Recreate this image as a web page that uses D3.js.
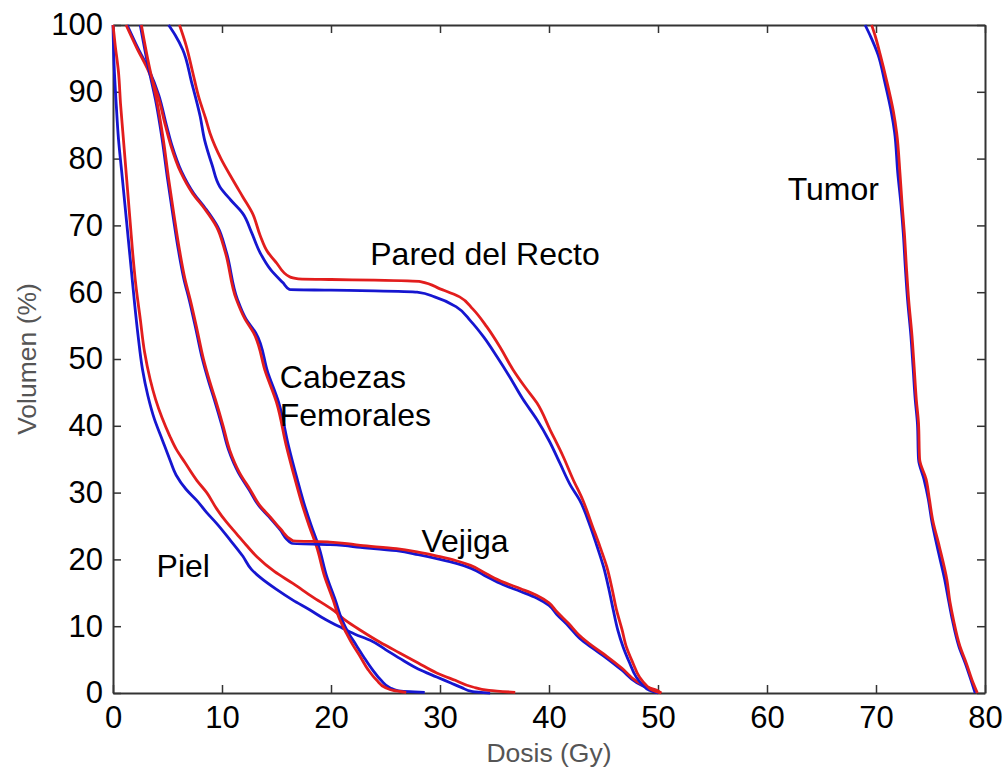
<!DOCTYPE html>
<html>
<head>
<meta charset="utf-8">
<script src="https://cdn.jsdelivr.net/npm/d3@7"></script>
<style>
  html, body { margin: 0; padding: 0; background: #fff; }
  svg { display: block; }
  text { font-family: "Liberation Sans", Arial, sans-serif; }
</style>
</head>
<body>
<div id="chart"></div>
<script>
// ---- Data (dose in Gy, volume in %) ----
const xTicks = [0, 10, 20, 30, 40, 50, 60, 70, 80];
const yTicks = [0, 10, 20, 30, 40, 50, 60, 70, 80, 90, 100];
const xLabel = "Dosis (Gy)";
const yLabel = "Volumen (%)";

const pielBlue = [[0,100],[0.1,94],[0.3,88],[0.5,83],[0.8,78],[1.1,73],[1.4,68],[1.7,63],[2.0,58],[2.3,53.5],[2.7,48.5],[3.2,44.5],[3.8,41],[4.5,38],[5.2,35],[5.8,32.6],[6.7,30.5],[7.7,28.8],[8.6,27],[9.5,25.4],[10.7,23],[11.9,20.5],[12.7,18.5],[13.5,17.3],[15,15.5],[16.5,13.9],[18,12.5],[19.5,11],[20.8,9.9],[22.2,8.8],[23.6,7.9],[25,6.5],[26.6,4.9],[28,3.6],[29.7,2.4],[31,1.5],[32,0.8],[33,0.2],[34.6,0]];
const pielRed = [[0,100],[0.2,97],[0.5,93],[0.7,88],[0.9,84],[1.15,79],[1.4,74],[1.6,70],[1.8,66],[2.1,61],[2.5,56],[2.9,51],[3.4,47],[3.9,44],[4.5,41.2],[5.2,38.5],[5.8,36.5],[6.6,34.5],[7.7,31.8],[8.6,30],[9.5,27.6],[10.4,25.6],[11.3,23.9],[12.3,22],[13.2,20.4],[14.8,18.2],[16.5,16.4],[18.3,14.4],[20.2,12.4],[21.4,10.8],[22.7,9.4],[24.5,7.6],[26.3,6],[28,4.5],[29.7,3],[31.4,1.9],[33,0.9],[34.5,0.4],[36.9,0.1]];

const cabezasRed = [[1.2,100],[2.2,96.5],[3.2,93.3],[4.1,89.5],[4.8,85],[5.3,82],[6.2,78],[7.3,74.8],[8.4,72.5],[9.5,69.8],[10.3,66],[11.3,59],[12.1,56],[12.9,53.9],[14.0,48],[15.0,43.5],[15.9,37],[16.7,32],[17.3,28.5],[18.0,25],[18.7,21.8],[19.4,17.5],[20.2,13.9],[20.8,11],[21.4,9],[22.0,7.2],[22.7,5.4],[23.4,3.5],[24.2,1.9],[25.0,0.8],[25.7,0.4],[26.9,0.1]];
const cabezasBlue = [[1.3,100],[2.3,96.5],[3.3,93.3],[4.2,89.5],[4.9,85],[5.4,82],[6.3,78],[7.4,74.8],[8.5,72.5],[9.6,69.8],[10.4,66],[11.4,59],[12.2,56],[13.1,53.9],[14.2,48],[15.2,43.5],[16.1,37],[16.9,32],[17.5,28.5],[18.2,25],[18.9,21.8],[19.6,17.5],[20.4,13.9],[21.0,11],[21.6,9],[22.3,7.2],[23.0,5.4],[23.8,3.5],[24.6,1.9],[25.4,0.8],[26.2,0.3],[28.6,0.1]];

const vejigaRed = [[2.6,100],[3.3,94],[4.0,88.8],[4.6,83],[5.1,77],[5.6,71.5],[6.1,66.3],[6.6,62],[7.1,58.8],[7.7,54.5],[8.3,50],[8.9,46.5],[9.4,43.9],[10.1,40],[10.7,36.4],[11.6,33],[12.6,30.4],[13.5,28],[14.4,26.4],[15.4,24.5],[16.5,22.8],[19.9,22.6],[22.7,22.1],[26,21.6],[28,21.1],[30,20.4],[31.5,19.8],[32.8,19.1],[34.3,17.8],[35.8,16.6],[37.4,15.6],[38.9,14.6],[40.0,13.5],[40.7,12.2],[41.8,10.4],[42.8,8.6],[44,7.0],[45.3,5.5],[46.7,3.7],[48,1.8],[49,0.9],[49.9,0.4],[50.3,0]];
const vejigaBlue = [[2.5,100],[3.2,94],[3.9,88.8],[4.5,83],[5.0,77],[5.5,71.5],[6.0,66.3],[6.5,62],[7.0,58.8],[7.6,54.5],[8.2,50],[8.8,46.5],[9.3,43.9],[10.0,40],[10.6,36.4],[11.5,33],[12.5,30.4],[13.4,28],[14.3,26.4],[15.3,24.5],[16.4,22.4],[19.9,22.2],[22.7,21.8],[26,21.3],[28,20.7],[30,20.0],[31.5,19.4],[32.8,18.7],[34.3,17.4],[35.8,16.2],[37.4,15.2],[38.9,14.2],[40.0,13.1],[40.7,11.8],[41.8,10.0],[42.8,8.2],[44,6.7],[45.3,5.2],[46.7,3.4],[48,1.6],[49,0.8],[49.9,0.3],[50.1,0]];

const rectoBlue = [[5.1,100],[5.7,98.5],[6.4,96.3],[7.2,91.5],[8.0,86.3],[8.4,82.8],[9.1,79],[9.8,75.8],[10.8,73.8],[11.9,71.8],[12.7,69],[13.5,65.9],[14.5,63.3],[15.6,61.4],[16.2,60.4],[20,60.3],[24,60.2],[27.9,60],[29.5,59.3],[31.5,57.8],[32.8,55.7],[34,53.3],[35.2,50.4],[36.4,47.3],[37.6,44],[38.9,40.9],[40,37.8],[41,34.4],[42,31],[42.8,28.9],[43.8,24.9],[44.4,22],[45,18.9],[45.5,15.5],[45.9,12.4],[46.3,9.5],[46.8,6.9],[47.4,4.5],[48,2.4],[48.6,1.2],[49.2,0.4],[50,0]];
const rectoRed = [[6.1,100],[6.7,97],[7.3,93],[7.9,89],[8.5,86],[8.9,83.8],[9.9,80],[11,76.8],[11.9,74.3],[12.8,71.8],[13.5,68.5],[14.2,66],[15,64.4],[16.2,62.3],[17,62],[20,61.9],[24,61.8],[28.2,61.6],[30,60.5],[31.8,59.3],[33,57.5],[34.3,54.8],[35.5,51.8],[36.7,48.4],[37.8,45.8],[38.9,43.4],[40.1,39.4],[41.3,35.4],[42.2,32],[43.1,28.9],[44,24.9],[44.7,21.8],[45.3,18.9],[45.8,15.5],[46.2,12.4],[46.7,9.5],[47.1,6.9],[47.7,4.5],[48.3,2.4],[48.9,1.2],[49.5,0.4],[50.3,0]];

const tumorBlue = [[69.0,100],[69.5,98.3],[70.2,95.5],[70.8,91.5],[71.4,87],[71.7,84],[72.0,77.8],[72.3,73],[72.5,68.9],[72.7,63.5],[72.9,58.8],[73.2,53.5],[73.4,48.8],[73.6,43.9],[73.8,40.4],[73.9,35],[74.4,32],[74.8,29],[75.1,25.9],[75.6,22],[76.3,17],[76.7,13.5],[77.0,11],[77.6,7],[78.2,4.4],[78.7,2],[79.1,0]];
const tumorRed = [[69.6,100],[69.9,98.5],[70.4,95.5],[71.0,91.5],[71.6,87],[71.9,83.8],[72.2,77.8],[72.4,73],[72.6,68.9],[72.8,63.5],[73.0,58.8],[73.3,53.5],[73.5,48.8],[73.7,43.9],[73.9,40.4],[74.0,35],[74.6,32],[74.9,29],[75.2,25.9],[75.8,22],[76.5,17],[76.8,13.5],[77.1,11],[77.7,7],[78.3,4.4],[78.8,2],[79.3,0]];

const series = [
  {name: "Piel azul", color: "blue", data: pielBlue},
  {name: "Piel rojo", color: "red", data: pielRed},
  {name: "Cabezas azul", color: "blue", data: cabezasBlue},
  {name: "Cabezas rojo", color: "red", data: cabezasRed},
  {name: "Vejiga azul", color: "blue", data: vejigaBlue},
  {name: "Vejiga rojo", color: "red", data: vejigaRed},
  {name: "Recto azul", color: "blue", data: rectoBlue},
  {name: "Recto rojo", color: "red", data: rectoRed},
  {name: "Tumor azul", color: "blue", data: tumorBlue},
  {name: "Tumor rojo", color: "red", data: tumorRed}
];

const annotations = [
  {lines: ["Pared del Recto"], d: 23.6, v: 64.1},
  {lines: ["Cabezas", "Femorales"], d: 15.3, v: 45.6},
  {lines: ["Vejiga"], d: 28.3, v: 21.1},
  {lines: ["Piel"], d: 4.0, v: 17.4},
  {lines: ["Tumor"], d: 61.9, v: 73.8}
];

// ---- Drawing ----
const W = 1008, H = 772;
const colors = {blue: "#1616d0", red: "#e21d1d"};
const svg = d3.select("#chart").append("svg").attr("width", W).attr("height", H);
svg.append("rect").attr("width", W).attr("height", H).attr("fill", "#fff");

const x = d3.scaleLinear().domain([0, 80]).range([113, 985]);
const y = d3.scaleLinear().domain([0, 100]).range([693, 25]);

const axisColor = "#333";
function styleAxis(g, showLabels) {
  g.select(".domain").attr("stroke", axisColor).attr("stroke-width", 2);
  g.selectAll(".tick line").attr("stroke", axisColor).attr("stroke-width", 1.5);
  g.selectAll(".tick text").attr("fill", "#000").attr("font-size", 31)
    .attr("font-family", "Liberation Sans, Arial, sans-serif");
  if (!showLabels) g.selectAll(".tick text").remove();
}

svg.append("g").attr("transform", `translate(0,${y(0)})`)
  .call(d3.axisBottom(x).tickValues(xTicks).tickFormat(d3.format("d")).tickSizeInner(-8).tickSizeOuter(0).tickPadding(13))
  .call(g => styleAxis(g, true));
svg.append("g").attr("transform", `translate(0,${y(100)})`)
  .call(d3.axisTop(x).tickValues(xTicks).tickSizeInner(-8).tickSizeOuter(0))
  .call(g => styleAxis(g, false));
svg.append("g").attr("transform", `translate(${x(0)},0)`)
  .call(d3.axisLeft(y).tickValues(yTicks).tickFormat(d3.format("d")).tickSizeInner(-8).tickSizeOuter(0).tickPadding(10))
  .call(g => styleAxis(g, true));
svg.append("g").attr("transform", `translate(${x(80)},0)`)
  .call(d3.axisRight(y).tickValues(yTicks).tickSizeInner(-8).tickSizeOuter(0))
  .call(g => styleAxis(g, false));

// axis titles
svg.append("text").attr("x", (x(0) + x(80)) / 2).attr("y", 762)
  .attr("text-anchor", "middle").attr("font-size", 26.5).attr("fill", "#555").text(xLabel);
svg.append("text").attr("transform", `translate(36,${(y(0) + y(100)) / 2}) rotate(-90)`)
  .attr("text-anchor", "middle").attr("font-size", 26.5).attr("fill", "#555").text(yLabel);

// curves
const line = d3.line().x(d => x(d[0])).y(d => y(d[1])).curve(d3.curveMonotoneY);
const plot = svg.append("g");
plot.selectAll("path.dvh").data(series).join("path")
  .attr("class", "dvh")
  .attr("d", s => line(s.data))
  .attr("fill", "none")
  .attr("stroke", s => colors[s.color])
  .attr("stroke-width", 2.8)
  .attr("stroke-linejoin", "round");

// annotations
annotations.forEach(a => {
  const t = svg.append("text").attr("x", x(a.d)).attr("y", y(a.v))
    .attr("font-size", 32).attr("fill", "#000");
  a.lines.forEach((l, i) => {
    t.append("tspan").attr("x", x(a.d)).attr("dy", i === 0 ? 0 : 38).text(l);
  });
});
</script>
</body>
</html>
